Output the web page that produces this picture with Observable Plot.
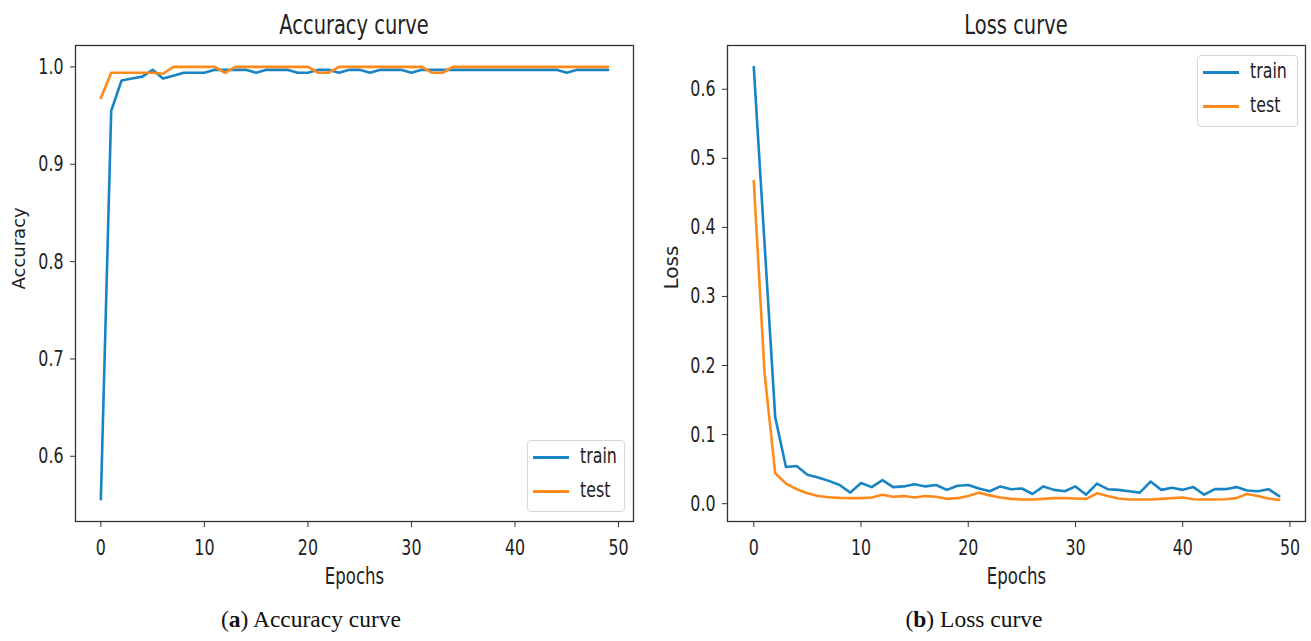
<!DOCTYPE html>
<html>
<head>
<meta charset="utf-8">
<script src="https://cdn.jsdelivr.net/npm/d3@7"></script>
<script src="https://cdn.jsdelivr.net/npm/@observablehq/plot@0.6"></script>
<style>
  html, body { margin: 0; padding: 0; background: #fff; }
  #wrap { position: relative; width: 1311px; height: 641px; overflow: hidden; font-family: "DejaVu Sans", sans-serif; color: #222; }
  .panel { position: absolute; top: 0; }
  .title { position: absolute; top: 11px; font-size: 27px; line-height: 27px; transform: translateX(-50%) scaleX(0.72); white-space: nowrap; color: #222; }
  .caption { position: absolute; top: 606px; font-family: "Liberation Serif", serif; font-size: 23.5px; transform: translateX(-50%); white-space: nowrap; color: #111; }
  .legend { position: absolute; background: rgba(255,255,255,0.85); border: 1px solid #d6d6d6; border-radius: 4px; box-sizing: border-box; }
  .legend .row { position: absolute; left: 0; color: #222; white-space: nowrap; }
  .legend .sw { position: absolute; height: 3px; }
  .legend .lbl { position: absolute; font-size: 22px; line-height: 22px; transform: scaleX(0.72); transform-origin: left center; }
</style>
</head>
<body>
<div id="wrap"></div>
<script>
// ---- data ----
const epochs = [0,1,2,3,4,5,6,7,8,9,10,11,12,13,14,15,16,17,18,19,20,21,22,23,24,25,26,27,28,29,30,31,32,33,34,35,36,37,38,39,40,41,42,43,44,45,46,47,48,49];
const seriesNames = ["train", "test"];
const seriesColors = ["#1984c4", "#ff8a1c"];

const accTrain = [0.556,0.955,0.986,0.988,0.990,0.997,0.988,0.991,0.994,0.994,
                  0.994,0.997,0.997,0.997,0.997,0.994,0.997,0.997,0.997,0.994,
                  0.994,0.997,0.997,0.994,0.997,0.997,0.994,0.997,0.997,0.997,
                  0.994,0.997,0.997,0.997,0.997,0.997,0.997,0.997,0.997,0.997,
                  0.997,0.997,0.997,0.997,0.997,0.994,0.997,0.997,0.997,0.997];
const accTest  = [0.968,0.994,0.994,0.994,0.994,0.994,0.993,1.000,1.000,1.000,
                  1.000,1.000,0.994,1.000,1.000,1.000,1.000,1.000,1.000,1.000,
                  1.000,0.994,0.994,1.000,1.000,1.000,1.000,1.000,1.000,1.000,
                  1.000,1.000,0.994,0.994,1.000,1.000,1.000,1.000,1.000,1.000,
                  1.000,1.000,1.000,1.000,1.000,1.000,1.000,1.000,1.000,1.000];

const lossTrain = [0.632,0.378,0.125,0.053,0.0545,0.042,0.038,0.033,0.027,0.016,
                   0.030,0.024,0.034,0.024,0.025,0.028,0.025,0.027,0.020,0.026,
                   0.027,0.022,0.018,0.025,0.021,0.022,0.014,0.025,0.020,0.018,
                   0.025,0.013,0.029,0.021,0.020,0.018,0.016,0.032,0.020,0.023,
                   0.020,0.024,0.013,0.021,0.021,0.024,0.019,0.018,0.021,0.011];
const lossTest  = [0.467,0.190,0.044,0.029,0.021,0.015,0.011,0.0094,0.0084,0.008,
                   0.008,0.009,0.013,0.010,0.011,0.009,0.011,0.010,0.007,0.008,
                   0.011,0.016,0.012,0.009,0.007,0.006,0.006,0.007,0.008,0.008,
                   0.0075,0.007,0.015,0.011,0.0075,0.006,0.006,0.006,0.007,0.008,
                   0.009,0.0065,0.006,0.006,0.0065,0.008,0.014,0.011,0.0075,0.0055];

const xTicks = [0,10,20,30,40,50];
const accTicks = [0.6,0.7,0.8,0.9,1.0];
const lossTicks = [0.0,0.1,0.2,0.3,0.4,0.5,0.6];

// ---- helpers ----
function toRows(train, test) {
  const rows = [];
  epochs.forEach((e, i) => rows.push({epoch: e, value: train[i], series: "train"}));
  epochs.forEach((e, i) => rows.push({epoch: e, value: test[i], series: "test"}));
  return rows;
}

// The reference figure is horizontally squeezed: condense every horizontal SVG text
// about its anchor (done after the SVG is in the document).
function condense(svg, k) {
  const NS = "http://www.w3.org/2000/svg";
  Array.from(svg.querySelectorAll("text")).forEach(t => {
    const tl = t.transform.baseVal;
    const M = tl.numberOfItems ? tl.consolidate().matrix : svg.createSVGMatrix();
    if (Math.abs(M.b) > 0.5) return; // leave rotated labels as they are
    const bb = t.getBBox();
    const xs = [bb.x, bb.x + bb.width].map(x => M.a * x + M.c * bb.y + M.e);
    const minX = Math.min(...xs), maxX = Math.max(...xs);
    const anchor = getComputedStyle(t).textAnchor;
    const ax = anchor === "middle" ? (minX + maxX) / 2 : anchor === "end" ? maxX : minX;
    const g = document.createElementNS(NS, "g");
    g.setAttribute("transform", `translate(${ax},0) scale(${k},1) translate(${-ax},0)`);
    t.parentNode.insertBefore(g, t);
    g.appendChild(t);
  });
}

function panel({rows, yDomain, yTicks, yLabel, yLabelSize, width, marginLeft, marginRight}) {
  return Plot.plot({
    width, height: 600,
    marginLeft, marginRight, marginTop: 45, marginBottom: 79,
    style: {fontFamily: "DejaVu Sans, sans-serif", fontSize: "22px", color: "#222", background: "transparent", overflow: "visible"},
    x: {domain: [-2.45, 51.45]},
    y: {domain: yDomain},
    color: {domain: seriesNames, range: seriesColors},
    marks: [
      Plot.axisX({ticks: xTicks, tickSize: 6, tickPadding: 12, fontSize: 22, label: null, stroke: "#333"}),
      Plot.axisY({ticks: yTicks, tickFormat: d3.format(".1f"), tickSize: 5, tickPadding: 7, fontSize: 22, label: null, stroke: "#333"}),
      Plot.line(rows, {x: "epoch", y: "value", z: "series", stroke: "series", strokeWidth: 2.6, strokeLinejoin: "round"}),
      Plot.frame({stroke: "#333", strokeWidth: 1.3}),
      Plot.text(["Epochs"], {frameAnchor: "bottom", dy: 62, fontSize: 23, fill: "#222"}),
      Plot.text([yLabel], {frameAnchor: "left", dx: -56, dy: 6, rotate: -90, fontSize: yLabelSize, fill: "#222"})
    ]
  });
}

function legend(left, top, w, h) {
  const lg = document.createElement("div");
  lg.className = "legend";
  Object.assign(lg.style, {left: left + "px", top: top + "px", width: w + "px", height: h + "px"});
  seriesNames.forEach((name, i) => {
    const row = document.createElement("div");
    row.className = "row";
    row.style.top = (i * 34) + "px";
    const sw = document.createElement("div");
    sw.className = "sw";
    Object.assign(sw.style, {left: "5px", top: "15px", width: "36px", background: seriesColors[i]});
    const lbl = document.createElement("div");
    lbl.className = "lbl";
    Object.assign(lbl.style, {left: "52px", top: "4px"});
    lbl.textContent = name;
    row.appendChild(sw); row.appendChild(lbl);
    lg.appendChild(row);
  });
  return lg;
}

const wrap = document.getElementById("wrap");

const left = panel({rows: toRows(accTrain, accTest), yDomain: [0.533, 1.022], yTicks: accTicks, yLabel: "Accuracy", yLabelSize: 18, width: 655, marginLeft: 75, marginRight: 22});
left.classList.add("panel"); left.style.left = "0px";
wrap.appendChild(left);
condense(left, 0.72);

const right = panel({rows: toRows(lossTrain, lossTest), yDomain: [-0.0258, 0.6633], yTicks: lossTicks, yLabel: "Loss", yLabelSize: 20, width: 656, marginLeft: 72, marginRight: 6});
right.classList.add("panel"); right.style.left = "655px";
wrap.appendChild(right);
condense(right, 0.72);

function addText(cls, text, x, html) {
  const d = document.createElement("div");
  d.className = cls;
  d.style.left = x + "px";
  if (html) d.innerHTML = html; else d.textContent = text;
  wrap.appendChild(d);
}
addText("title", "Accuracy curve", 354);
addText("title", "Loss curve", 1016);
addText("caption", "", 311, "(<b>a</b>) Accuracy curve");
addText("caption", "", 974, "(<b>b</b>) Loss curve");

wrap.appendChild(legend(527, 440, 98, 72));
wrap.appendChild(legend(1197, 55, 101, 72));
</script>
</body>
</html>
